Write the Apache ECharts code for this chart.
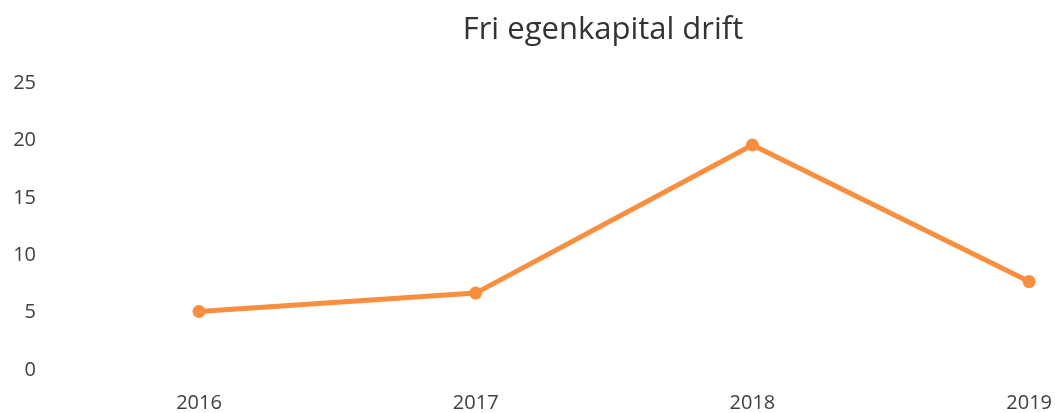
<!DOCTYPE html>
<html><head><meta charset="utf-8">
<script src="https://cdn.jsdelivr.net/npm/echarts@6/dist/echarts.min.js"></script>
<style>html,body{margin:0;padding:0;background:#fff}#c{width:1055px;height:413px}</style>
</head><body><div id="c"></div>
<script>
var title = 'Fri egenkapital drift';
var years = ['2016', '2017', '2018', '2019'];
var values = [5.1, 6.7, 19.6, 7.7];
var yTicks = [0, 5, 10, 15, 20, 25];

var chart = echarts.init(document.getElementById('c'), null, {renderer: 'canvas'});
chart.setOption({
  animation: false,
  backgroundColor: '#fff',
  title: {text: title, left: 598, top: 10, textAlign: 'center',
    textStyle: {fontFamily: 'Open Sans', fontWeight: 'normal', fontSize: 31, color: '#333'}},
  grid: {left: 199, right: 25, top: 83, bottom: 41},
  xAxis: {type: 'category', data: years, boundaryGap: false,
    axisLine: {show: false}, axisTick: {show: false}, splitLine: {show: false},
    axisLabel: {fontFamily: 'Open Sans', fontSize: 20, color: '#404040', margin: 23}},
  yAxis: {type: 'value', min: yTicks[0], max: yTicks[yTicks.length - 1], interval: 5,
    axisLine: {show: false}, axisTick: {show: false}, splitLine: {show: false},
    axisLabel: {fontFamily: 'Open Sans', fontSize: 20, color: '#404040', align: 'right',
      margin: 163}},
  series: [{type: 'line', data: values, symbol: 'circle', symbolSize: 13,
    lineStyle: {color: '#F98F3E', width: 5}, itemStyle: {color: '#F98F3E'}}]
});
</script></body></html>
